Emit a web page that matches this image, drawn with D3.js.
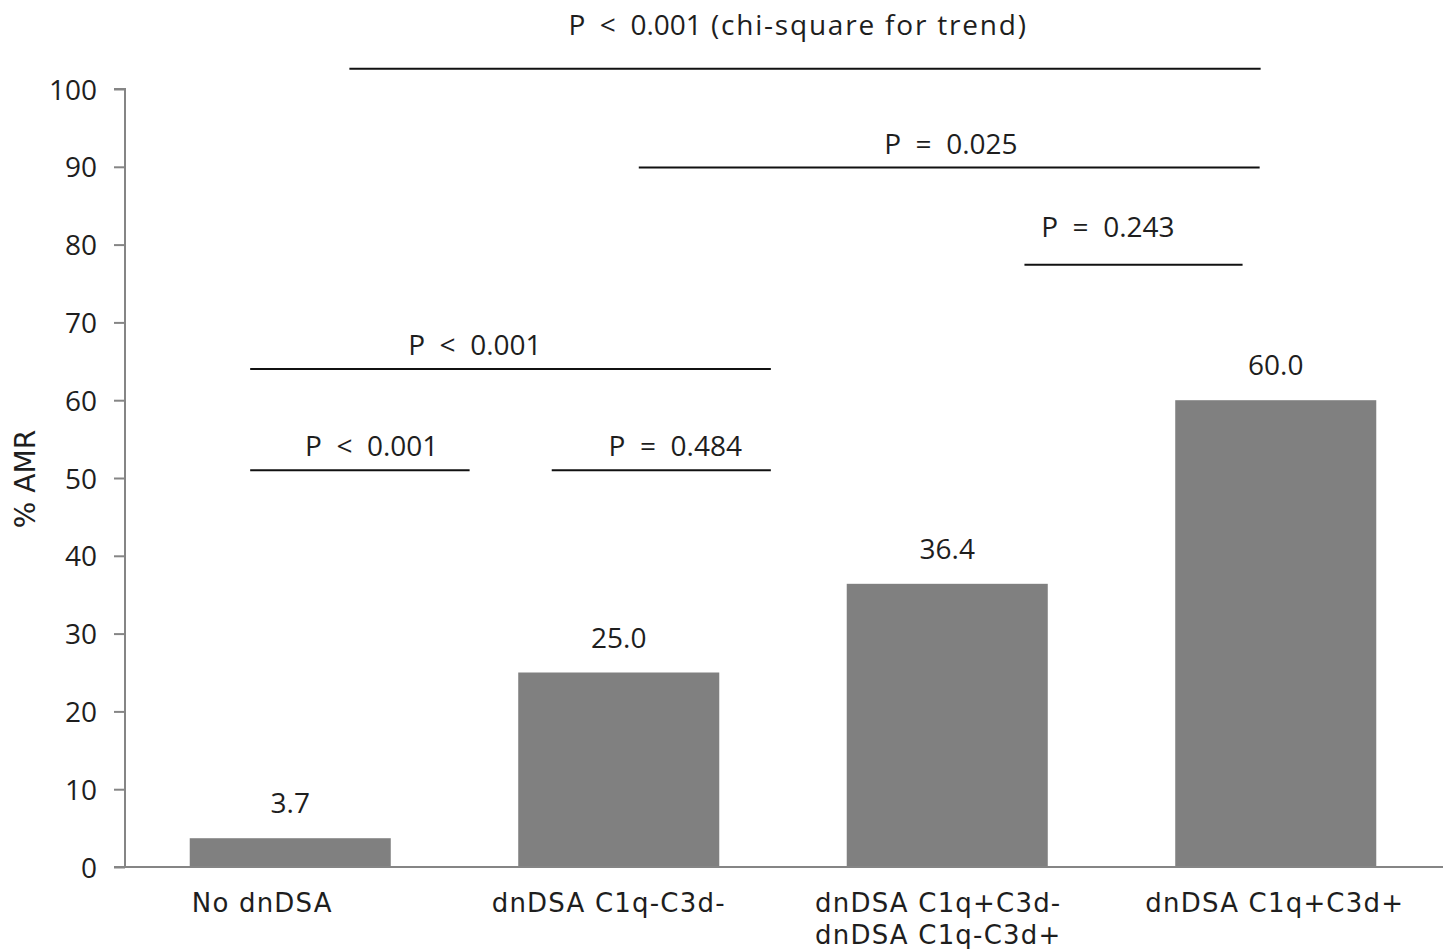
<!DOCTYPE html>
<html>
<head>
<meta charset="utf-8">
<script src="https://cdn.jsdelivr.net/npm/d3@7"></script>
<style>
  html, body { margin: 0; padding: 0; background: #fff; }
  svg { display: block; }
  .tick text { font-family: "Open Sans", sans-serif; }
</style>
</head>
<body>
<svg id="chart" width="1448" height="949"></svg>
<script>
// Categories (multi-line labels split by "\n")
const categories = [
  "No dnDSA",
  "dnDSA C1q-C3d-",
  "dnDSA C1q+C3d-\ndnDSA C1q-C3d+",
  "dnDSA C1q+C3d+"
];
// % AMR per group
const amrValues = [3.7, 25.0, 36.4, 60.0];
// Y axis ticks
const yTicks = [0, 10, 20, 30, 40, 50, 60, 70, 80, 90, 100];
// Pairwise comparison labels: [main text, note]
const pLabels = [
  ["P  <  0.001", " (chi-square for trend)"],
  ["P  =  0.025", ""],
  ["P  =  0.243", ""],
  ["P  <  0.001", ""],
  ["P  <  0.001", ""],
  ["P  =  0.484", ""]
];

// Bracket geometry: start/end/text centre in category units (0 = left edge of first band),
// level in axis units, gap = text baseline distance above the line
const bracketLayout = [
  { x0: 0.680, x1: 3.454, level: 102.6, tx: 2.046, gap: 34 },
  { x0: 1.561, x1: 3.451, level: 89.9,  tx: 2.511, gap: 14 },
  { x0: 2.735, x1: 3.399, level: 77.4,  tx: 2.989, gap: 28 },
  { x0: 0.378, x1: 1.963, level: 64.0,  tx: 1.062, gap: 14 },
  { x0: 0.378, x1: 1.046, level: 51.0,  tx: 0.748, gap: 14 },
  { x0: 1.296, x1: 1.963, level: 51.0,  tx: 1.672, gap: 14 }
];
// Horizontal nudge of each category label from its band centre
const labelShift = [-28, -10, -9, -1];

const svg = d3.select("#chart");
const plotLeft = 126, plotRight = 1440, plotTop = 89, plotBottom = 867;

const x = d3.scaleBand()
  .domain(categories)
  .range([plotLeft, plotRight])
  .paddingInner(0.388)
  .paddingOuter(0.194);

const xu = d3.scaleLinear().domain([0, categories.length]).range([plotLeft, plotRight]);

const y = d3.scaleLinear().domain([0, 100]).range([plotBottom, plotTop]);

const axisColor = "#858585";
const textColor = "#1e1e1e";
const numFont = "Open Sans, sans-serif";
const numSize = 28;

// Bars
svg.append("g")
  .selectAll("rect")
  .data(amrValues)
  .join("rect")
  .attr("x", (d, i) => x(categories[i]))
  .attr("width", x.bandwidth())
  .attr("y", d => y(d))
  .attr("height", d => y(0) - y(d))
  .attr("fill", "#808080");

// Value labels
svg.append("g")
  .selectAll("text")
  .data(amrValues)
  .join("text")
  .attr("x", (d, i) => x(categories[i]) + x.bandwidth() / 2)
  .attr("y", d => y(d) - 25)
  .attr("text-anchor", "middle")
  .attr("font-family", numFont)
  .attr("font-size", numSize)
  .attr("fill", textColor)
  .text(d => d.toFixed(1));

// Y axis
const yAxis = svg.append("g")
  .attr("transform", `translate(${plotLeft - 1},0)`)
  .call(d3.axisLeft(y).tickValues(yTicks).tickSize(11).tickPadding(17));
yAxis.selectAll("path, line").attr("stroke", axisColor).attr("stroke-width", 2);
yAxis.select(".domain").attr("d", `M-11,${plotTop}H0V${plotBottom}`);
yAxis.selectAll("text")
  .attr("font-size", numSize)
  .attr("fill", textColor)
  .attr("dy", "0.36em");

// X axis line
svg.append("line")
  .attr("x1", plotLeft - 12).attr("x2", plotRight + 3)
  .attr("y1", y(0)).attr("y2", y(0))
  .attr("stroke", axisColor)
  .attr("stroke-width", 2);

// Category labels
const catG = svg.append("g");
categories.forEach((c, k) => {
  const cx = x(c) + x.bandwidth() / 2 + labelShift[k];
  const t = catG.append("text")
    .attr("x", cx)
    .attr("y", 912)
    .attr("text-anchor", "middle")
    .attr("font-family", "DejaVu Sans, sans-serif")
    .attr("font-size", 26)
    .attr("letter-spacing", 1.2)
    .attr("fill", textColor);
  c.split("\n").forEach((line, i) => {
    t.append("tspan")
      .attr("x", cx)
      .attr("dy", i === 0 ? 0 : 32)
      .text(line);
  });
});

// Y axis title
svg.append("text")
  .attr("transform", `translate(35,${479}) rotate(-90)`)
  .attr("text-anchor", "middle")
  .attr("font-family", "DejaVu Sans, sans-serif")
  .attr("font-size", 28)
  .attr("fill", textColor)
  .text("% AMR");

// Comparison brackets and P values
const brG = svg.append("g");
bracketLayout.forEach((b, i) => {
  brG.append("line")
    .attr("x1", xu(b.x0)).attr("x2", xu(b.x1))
    .attr("y1", y(b.level)).attr("y2", y(b.level))
    .attr("stroke", "#111")
    .attr("stroke-width", 2);
  const t = brG.append("text")
    .attr("x", xu(b.tx))
    .attr("y", y(b.level) - b.gap)
    .attr("text-anchor", "middle")
    .attr("font-family", numFont)
    .attr("font-size", numSize)
    .attr("fill", textColor)
    .attr("xml:space", "preserve")
    .style("white-space", "pre");
  t.append("tspan").text(pLabels[i][0]);
  if (pLabels[i][1]) {
    t.append("tspan").attr("letter-spacing", 1.8).text(pLabels[i][1]);
  }
});
</script>
</body>
</html>
